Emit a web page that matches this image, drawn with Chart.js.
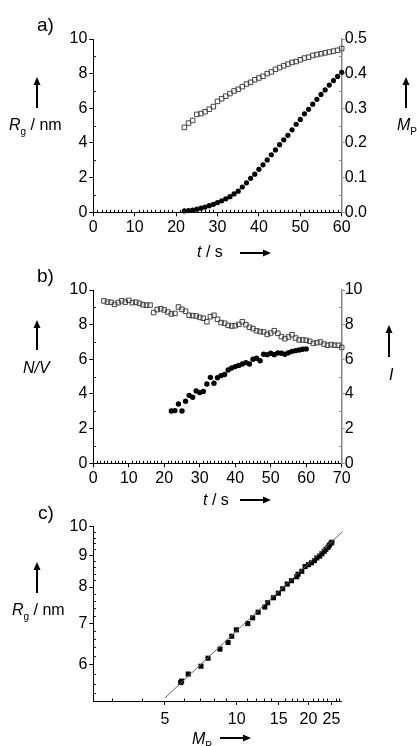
<!DOCTYPE html>
<html>
<head>
<meta charset="utf-8">
<script src="https://cdn.jsdelivr.net/npm/chart.js@4.4.0/dist/chart.umd.min.js"></script>
<style>
  body { margin: 0; background: #fff; }
  #wrap { position: relative; width: 417px; height: 746px; overflow: hidden; background: #fff; }
  canvas { position: absolute; left: 0; }
</style>
</head>
<body>
<div id="wrap">
  <canvas id="chartA" width="417" height="265" style="top:0px"></canvas>
  <canvas id="chartB" width="417" height="245" style="top:265px"></canvas>
  <canvas id="chartC" width="417" height="251" style="top:495px"></canvas>
</div>
<script>
// panel a: radius of gyration and polymer mass vs time
const timeA = [22, 23, 24, 25, 26, 27, 28, 29, 30, 31, 32, 33, 34, 35, 36, 37, 38, 39, 40,
  41, 42, 43, 44, 45, 46, 47, 48, 49, 50, 51, 52, 53, 54, 55, 56, 57, 58, 59, 60];
const rgA = [4.9, 5.15, 5.3, 5.65, 5.7, 5.8, 5.95, 6.1, 6.4, 6.55, 6.7, 6.85, 7.0, 7.1, 7.25,
  7.4, 7.5, 7.65, 7.75, 7.85, 8.0, 8.1, 8.25, 8.35, 8.45, 8.55, 8.65, 8.7, 8.8, 8.9, 8.95,
  9.05, 9.1, 9.15, 9.2, 9.25, 9.3, 9.35, 9.45];
const mpA = [0.004, 0.005, 0.006, 0.009, 0.012, 0.015, 0.019, 0.023, 0.028, 0.033, 0.039,
  0.045, 0.053, 0.061, 0.073, 0.085, 0.098, 0.110, 0.124, 0.137, 0.151, 0.166, 0.180, 0.195,
  0.209, 0.222, 0.238, 0.254, 0.268, 0.284, 0.297, 0.312, 0.326, 0.340, 0.353, 0.367, 0.380,
  0.392, 0.404];

// panel b: N/V and I vs time
const timeB = [3, 4, 5, 6, 7, 8, 9, 10, 11, 12, 13, 14, 15, 16, 17, 18, 19, 20, 21, 22, 23,
  24, 25, 26, 27, 28, 29, 30, 31, 32, 33, 34, 35, 36, 37, 38, 39, 40, 41, 42, 43, 44, 45, 46,
  47, 48, 49, 50, 51, 52, 53, 54, 55, 56, 57, 58, 59, 60, 61, 62, 63, 64, 65, 66, 67, 68, 69, 70];
const nvB = [9.37, 9.3, 9.29, 9.17, 9.27, 9.38, 9.3, 9.4, 9.27, 9.3, 9.23, 9.15, 9.12, 9.13,
  8.7, 8.87, 8.92, 8.85, 8.73, 8.62, 8.65, 9.02, 8.88, 8.77, 8.54, 8.52, 8.5, 8.42,
  8.37, 8.17, 8.46, 8.54, 8.31, 8.12, 8.08, 7.96, 7.92, 7.94, 8.02, 8.17, 8.0, 7.85,
  7.77, 7.65, 7.6, 7.58, 7.44, 7.52, 7.65, 7.5, 7.31, 7.19, 7.29, 7.42, 7.23, 7.12,
  7.12, 7.1, 7.04, 6.92, 6.96, 7.0, 6.88, 6.81, 6.85, 6.81, 6.81, 6.69];
const timeI = [22, 23, 24, 25, 26, 27, 28, 29, 30, 31, 32, 33, 34, 35, 36, 37, 38, 39, 40,
  41, 42, 43, 44, 45, 46, 47, 48, 49, 50, 51, 52, 53, 54, 55, 56, 57, 58, 59, 60];
const intB = [3.02, 3.04, 3.42, 3.02, 3.58, 3.92, 3.81, 4.17, 4.08, 4.15, 4.58, 4.96, 4.62,
  4.94, 5.06, 5.12, 5.38, 5.5, 5.58, 5.65, 5.73, 5.81, 5.73, 6.0, 6.06, 5.92, 6.29, 6.27,
  6.35, 6.27, 6.37, 6.35, 6.29, 6.38, 6.46, 6.5, 6.54, 6.58, 6.6];

// panel c: log-log Rg vs Mp with fitted line
const mpC = [5.82, 5.87, 6.26, 7.08, 7.58, 8.51, 9.2, 9.53, 9.97, 11.13, 11.67, 12.3, 13.12,
  13.5, 14.26, 14.96, 15.6, 16.3, 16.98, 17.87, 18.1, 18.76, 19.37, 20.0, 20.6, 21.2, 21.7,
  22.3, 22.8, 23.3, 23.7, 24.2, 24.5, 24.9, 25.1];
const rgC = [5.62, 5.65, 5.80, 5.97, 6.15, 6.36, 6.52, 6.67, 6.83, 6.99, 7.14, 7.29, 7.43,
  7.55, 7.69, 7.82, 7.95, 8.09, 8.19, 8.31, 8.39, 8.48, 8.63, 8.69, 8.75, 8.82, 8.91, 8.97,
  9.05, 9.13, 9.2, 9.27, 9.34, 9.41, 9.44];
const fitM = [5, 27.8];
const fitR = [5.31, 9.82];

const ticksX = [5, 10, 15, 20, 25];
const ticksY = [6, 7, 8, 9, 10];

const FONT = '"Liberation Sans", Arial, sans-serif';
const GREY = '#888';

function pts(xs, ys) {
    return xs.map((x, i) => ({ x, y: ys[i] }));
}

function range(a, b, step, skip) {
    const out = [];
    for (let v = a; v <= b + 1e-9; v += step) {
        const r = Math.round(v * 100) / 100;
        if (!skip || Math.abs(r / skip - Math.round(r / skip)) > 1e-6) out.push(r);
    }
    return out;
}

// small inward ticks between the labelled ones
const minorTicks = {
    id: 'minorTicks',
    afterDraw(chart, args, opts) {
        const ctx = chart.ctx;
        const area = chart.chartArea;
        (opts.list || []).forEach(m => {
            const s = chart.scales[m.axis];
            ctx.save();
            ctx.strokeStyle = m.color || '#000';
            ctx.lineWidth = 1;
            ctx.beginPath();
            m.values.forEach(v => {
                const p = Math.round(s.getPixelForValue(v)) + 0.5;
                if (s.isHorizontal()) {
                    ctx.moveTo(p, area.bottom);
                    ctx.lineTo(p, area.bottom - 2.5);
                } else if (s.position === 'left') {
                    ctx.moveTo(area.left, p);
                    ctx.lineTo(area.left + 2.5, p);
                } else {
                    ctx.moveTo(area.right, p);
                    ctx.lineTo(area.right - 2.5, p);
                }
            });
            ctx.stroke();
            ctx.restore();
        });
    }
};

function richText(ctx, x, y, parts, size) {
    parts.forEach(p => {
        const fs = p.sub ? Math.round(size * 0.62) : size;
        ctx.font = (p.it ? 'italic ' : '') + fs + 'px ' + FONT;
        ctx.fillText(p.t, x, y + (p.sub ? size * 0.3 : 0));
        x += ctx.measureText(p.t).width;
    });
}

function arrow(ctx, x1, y1, x2, y2) {
    const ang = Math.atan2(y2 - y1, x2 - x1);
    const head = 8, half = 3.5;
    ctx.save();
    ctx.strokeStyle = '#000';
    ctx.fillStyle = '#000';
    ctx.lineWidth = 2;
    ctx.beginPath();
    ctx.moveTo(x1, y1);
    ctx.lineTo(x2 - head * Math.cos(ang), y2 - head * Math.sin(ang));
    ctx.stroke();
    ctx.beginPath();
    ctx.moveTo(x2, y2);
    ctx.lineTo(x2 - head * Math.cos(ang) - half * Math.sin(ang), y2 - head * Math.sin(ang) + half * Math.cos(ang));
    ctx.lineTo(x2 - head * Math.cos(ang) + half * Math.sin(ang), y2 - head * Math.sin(ang) - half * Math.cos(ang));
    ctx.closePath();
    ctx.fill();
    ctx.restore();
}

function labels(draw) {
    return {
        id: 'labels',
        afterDraw(chart) {
            const ctx = chart.ctx;
            ctx.save();
            ctx.fillStyle = '#000';
            ctx.textBaseline = 'alphabetic';
            ctx.textAlign = 'left';
            draw(ctx);
            ctx.restore();
        }
    };
}

function axis(min, max, step, opts) {
    const o = opts || {};
    return {
        type: 'linear',
        position: o.position || 'bottom',
        min, max,
        ticks: {
            stepSize: step,
            autoSkip: false,
            maxRotation: 0,
            color: '#000',
            padding: o.padding !== undefined ? o.padding : 2,
            font: { family: FONT, size: 16 },
            callback: o.fmt || (v => String(v))
        },
        grid: {
            drawOnChartArea: false,
            drawTicks: true,
            tickLength: o.tickLength || 4,
            color: o.color || '#000'
        },
        border: { display: true, color: o.color || '#000', width: o.width || 1 },
        afterFit: o.size ? (s => {
            if (s.isHorizontal()) s.height = o.size; else s.width = o.size;
        }) : undefined
    };
}

const baseOptions = {
    responsive: false,
    devicePixelRatio: 1,
    animation: false,
    plugins: { legend: { display: false }, tooltip: { enabled: false } }
};

// ---------- panel a ----------
new Chart(document.getElementById('chartA'), {
    type: 'scatter',
    data: {
        datasets: [
            {
                data: pts(timeA, rgA), yAxisID: 'y',
                pointStyle: 'rect', pointRadius: 3.2, borderWidth: 1,
                borderColor: '#444', backgroundColor: 'rgba(255,255,255,0)', clip: false
            },
            {
                data: pts(timeA, mpA), yAxisID: 'y2',
                pointStyle: 'circle', pointRadius: 2.6, borderWidth: 0,
                backgroundColor: '#000', clip: false
            }
        ]
    },
    options: {
        ...baseOptions,
        layout: { padding: { left: 48.3, right: 30.3, top: 39, bottom: 17.7 } },
        scales: {
            x: axis(0, 60, 10, { size: 35 }),
            y: axis(0, 10, 2, { position: 'left', size: 45 }),
            y2: axis(0, 0.5, 0.1, {
                position: 'right', size: 45, color: GREY, width: 1.5,
                tickLength: 3, padding: 0, fmt: v => v.toFixed(1)
            })
        },
        plugins: {
            ...baseOptions.plugins,
            minorTicks: {
                list: [
                    { axis: 'x', values: range(1, 59, 1, 10) },
                    { axis: 'y', values: range(1, 9, 2) },
                    { axis: 'y2', values: range(0.05, 0.45, 0.1), color: GREY }
                ]
            }
        }
    },
    plugins: [minorTicks, labels(ctx => {
        ctx.font = '19px ' + FONT;
        ctx.fillText('a)', 37, 31);
        arrow(ctx, 37, 108, 37, 77);
        richText(ctx, 9, 130, [{ t: 'R', it: true }, { t: 'g', sub: true }, { t: ' / nm' }], 16);
        arrow(ctx, 406, 108, 406, 77);
        richText(ctx, 397, 130, [{ t: 'M', it: true }, { t: 'P', sub: true }], 16);
        richText(ctx, 197, 257, [{ t: 't', it: true }, { t: ' / s' }], 16);
        arrow(ctx, 240, 253, 271, 253);
    })]
});

// ---------- panel b ----------
new Chart(document.getElementById('chartB'), {
    type: 'scatter',
    data: {
        datasets: [
            {
                data: pts(timeB, nvB), yAxisID: 'y',
                pointStyle: 'rect', pointRadius: 3.2, borderWidth: 1,
                borderColor: '#444', backgroundColor: 'rgba(255,255,255,0)', clip: false
            },
            {
                data: pts(timeI, intB), yAxisID: 'y2',
                pointStyle: 'circle', pointRadius: 2.7, borderWidth: 0,
                backgroundColor: '#000', clip: false
            }
        ]
    },
    options: {
        ...baseOptions,
        layout: { padding: { left: 48.3, right: 30.3, top: 25, bottom: 11.7 } },
        scales: {
            x: axis(0, 70, 10, { size: 35 }),
            y: axis(0, 10, 2, { position: 'left', size: 45 }),
            y2: axis(0, 10, 2, {
                position: 'right', size: 45, color: GREY, width: 1.5,
                tickLength: 3, padding: 0
            })
        },
        plugins: {
            ...baseOptions.plugins,
            minorTicks: {
                list: [
                    { axis: 'x', values: range(1, 69, 1, 10) },
                    { axis: 'y', values: range(1, 9, 2) },
                    { axis: 'y2', values: range(1, 9, 2), color: GREY }
                ]
            }
        }
    },
    plugins: [minorTicks, labels(ctx => {
        ctx.font = '19px ' + FONT;
        ctx.fillText('b)', 37, 17);
        arrow(ctx, 37, 85, 37, 55);
        richText(ctx, 23, 108, [{ t: 'N/V', it: true }], 16);
        arrow(ctx, 389, 92, 389, 60);
        richText(ctx, 389, 115, [{ t: 'I', it: true }], 16);
        richText(ctx, 203, 240, [{ t: 't', it: true }, { t: ' / s' }], 16);
        arrow(ctx, 240, 235, 271, 235);
    })]
});

// ---------- panel c ----------
function logAxis(min, max, list, opts) {
    const o = axis(min, max, 1, opts);
    o.type = 'logarithmic';
    delete o.ticks.stepSize;
    o.afterBuildTicks = s => { s.ticks = list.map(v => ({ value: v })); };
    return o;
}

new Chart(document.getElementById('chartC'), {
    type: 'scatter',
    data: {
        datasets: [
            {
                type: 'line',
                data: pts(fitM, fitR),
                borderColor: '#666', borderWidth: 1, pointRadius: 0, fill: false, clip: false
            },
            {
                data: pts(mpC, rgC),
                pointStyle: 'rect', pointRadius: 3.6, borderWidth: 0,
                backgroundColor: '#000', clip: false
            }
        ]
    },
    options: {
        ...baseOptions,
        layout: { padding: { left: 48.3, right: 75.3, top: 31.7, bottom: 10 } },
        scales: {
            x: logAxis(2.5, 27.6, ticksX, { size: 35, padding: 5 }),
            y: logAxis(5.25, 10, ticksY, { position: 'left', size: 45 })
        },
        plugins: {
            ...baseOptions.plugins,
            minorTicks: {
                list: [
                    { axis: 'x', values: range(3, 27, 1, 5) },
                    { axis: 'y', values: range(5.4, 9.8, 0.2, 1) }
                ]
            }
        }
    },
    plugins: [minorTicks, labels(ctx => {
        ctx.font = '19px ' + FONT;
        ctx.fillText('c)', 38, 24);
        arrow(ctx, 37, 98, 37, 67);
        richText(ctx, 12, 120, [{ t: 'R', it: true }, { t: 'g', sub: true }, { t: ' / nm' }], 16);
        richText(ctx, 192, 249, [{ t: 'M', it: true }, { t: 'P', sub: true }], 16);
        arrow(ctx, 220, 243, 251, 243);
    })]
});
</script>
</body>
</html>
